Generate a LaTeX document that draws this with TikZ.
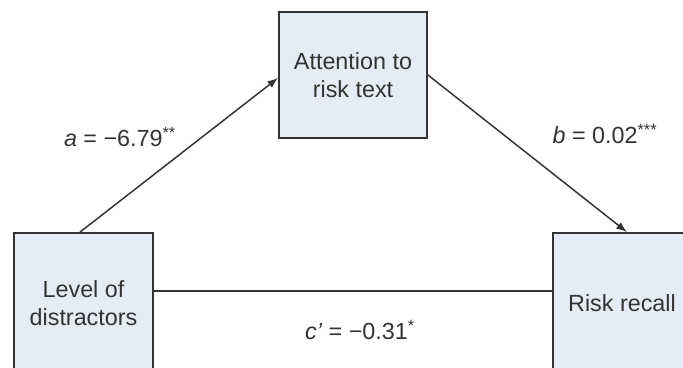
\documentclass[tikz,border=0pt]{standalone}
\usepackage{fontspec}
\setmainfont{Liberation Sans}
\usetikzlibrary{arrows.meta}
\definecolor{boxfill}{HTML}{E6ECF6}
\definecolor{inkgray}{HTML}{333333}

\begin{document}
\begin{tikzpicture}[x=0.75pt,y=-0.75pt,
	varbox/.style={draw=inkgray,line width=1.4pt,fill=boxfill,text=inkgray,align=center,
		font=\fontsize{17.5}{20.5}\selectfont,inner sep=0pt},
	link/.style={draw=inkgray,line width=1.1pt},
	coef/.style={text=inkgray,font=\fontsize{17.5}{20.5}\selectfont}]
			\useasboundingbox (0,0) rectangle (683,368);
			\clip (0,0) rectangle (683,368);
			% the three variables
			\node[varbox,minimum width=111pt,minimum height=94.5pt] (attn) at (353,75) {Attention to\\risk text};
			\node[varbox,minimum width=104pt,minimum height=105pt] (level) at (83.5,303) {Level of\\distractors};
			\node[varbox,minimum width=104pt,minimum height=105pt] (recall) at (622,303) {Risk recall};

			% paths
			\begin{scope}[link,-{Latex[length=8pt,width=6pt]}]
			\draw ([xshift=-2.6pt]level.north) -- ([yshift=-2.2pt]attn.west);
			\draw (attn.east) -- ([xshift=3.7pt]recall.north);
			\end{scope}
			\draw[link] ([yshift=9pt]level.east) -- ([yshift=9pt]recall.west);

			% coefficients
			\node[coef] (alab) at (120,137) {\textit{a} = −6.79\textsuperscript{**}};
			\node[coef] (blab) at (605,134) {\textit{b} = 0.02\textsuperscript{***}};
			\node[coef] (clab) at (360,330) {\textit{c’} = −0.31\textsuperscript{*}};
\end{tikzpicture}
\end{document}
